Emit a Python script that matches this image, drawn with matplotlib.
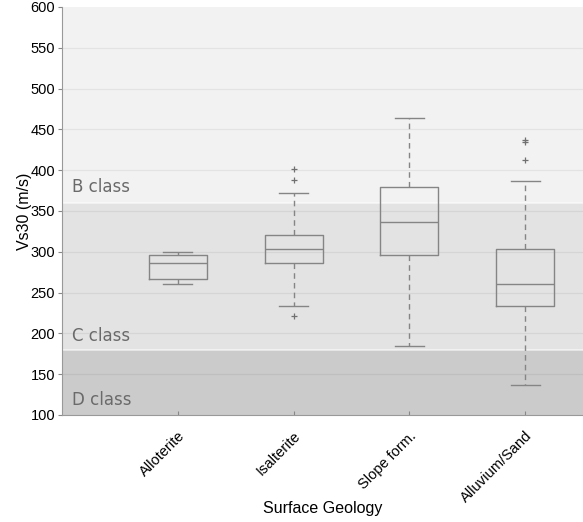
import matplotlib.pyplot as plt

# box statistics (m/s)
groups = ['Alloterite', 'Isalterite', 'Slope form.', 'Alluvium/Sand']
whislo = [261, 234, 184, 137]
q1 = [267, 286, 296, 234]
med = [286, 304, 336, 261]
q3 = [296, 321, 380, 303]
whishi = [300, 372, 464, 387]
fliers = [[], [402, 388, 221], [], [437, 434, 413]]

# site classes (lower, upper, label)
class_lo = [100, 180, 360]
class_hi = [180, 360, 600]
class_names = ['D class', 'C class', 'B class']
class_label_y = [118, 197, 380]
class_cols = ['#cbcbcb', '#e3e3e3', '#f2f2f2']

fig = plt.figure(figsize=(5.83, 5.22), dpi=100)
ax = fig.add_axes([62/583, 1 - 415/522, 521/583, 408/522])

for lo, hi, c in zip(class_lo, class_hi, class_cols):
    ax.axhspan(lo, hi, color=c, zorder=0, lw=0)
for b in class_lo[1:]:
    ax.axhline(b, color='white', lw=1.2, alpha=0.6, zorder=0.5)

for name, yl in zip(class_names, class_label_y):
    ax.text(0.085, yl, name, fontsize=12, color='#6a6a6a', va='center')

for y in range(150, 600, 50):
    ax.axhline(y, color='black', alpha=0.06, lw=0.9, zorder=0.6)

stats = []
for i in range(len(groups)):
    stats.append({'whislo': whislo[i], 'q1': q1[i], 'med': med[i],
                  'q3': q3[i], 'whishi': whishi[i], 'fliers': fliers[i]})

gc = '#858585'
ax.bxp(stats, positions=[1, 2, 3, 4], widths=0.5, showfliers=True,
       boxprops=dict(color=gc, lw=1),
       medianprops=dict(color=gc, lw=1),
       whiskerprops=dict(color=gc, lw=1, ls=(0, (4, 3))),
       capprops=dict(color=gc, lw=1),
       capwidths=0.25,
       flierprops=dict(marker='+', markeredgecolor='#707070', markersize=4, mew=0.9))

ax.set_xlim(0, 4.5)
ax.set_ylim(100, 600)
ax.set_yticks(range(100, 601, 50))
ax.set_xticks([1, 2, 3, 4])
ax.set_xticklabels(groups, rotation=45, ha='right', rotation_mode='anchor',
                   fontsize=10.5, family='Liberation Sans')
for t in ax.get_yticklabels():
    t.set_family('Liberation Sans')
    t.set_fontsize(10.5)
ax.tick_params(axis='y', direction='out', length=3, color='#888888', pad=2)
ax.tick_params(axis='x', direction='in', length=3, color='#888888', pad=10)

for s in ['top', 'right']:
    ax.spines[s].set_visible(False)
for s in ['left', 'bottom']:
    ax.spines[s].set_color('#999999')

ax.set_ylabel('Vs30 (m/s)', fontsize=11.5, family='Liberation Sans', labelpad=-1)
ax.set_xlabel('Surface Geology', fontsize=11.5, family='Liberation Sans', labelpad=-3)

fig.savefig('out.png', dpi=100)
